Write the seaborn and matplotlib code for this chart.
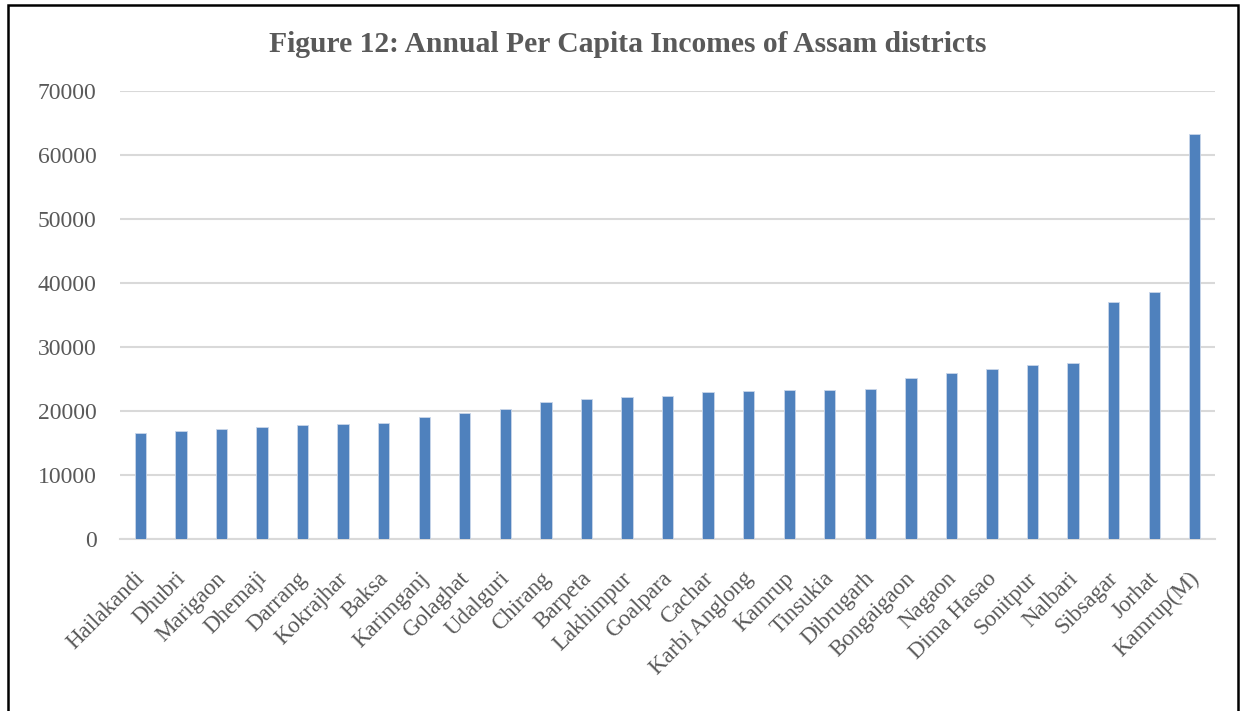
import matplotlib
matplotlib.use("Agg")
import matplotlib.pyplot as plt
import matplotlib.transforms as mtransforms
import seaborn as sns
import pandas as pd
from matplotlib.patches import Rectangle

# Data
districts = ["Hailakandi", "Dhubri", "Marigaon", "Dhemaji", "Darrang", "Kokrajhar",
             "Baksa", "Karimganj", "Golaghat", "Udalguri", "Chirang", "Barpeta",
             "Lakhimpur", "Goalpara", "Cachar", "Karbi Anglong", "Kamrup", "Tinsukia",
             "Dibrugarh", "Bongaigaon", "Nagaon", "Dima Hasao", "Sonitpur", "Nalbari",
             "Sibsagar", "Jorhat", "Kamrup(M)"]
income = [16630, 16830, 17140, 17560, 17870, 18030,
          18190, 19120, 19750, 20370, 21470, 21830,
          22250, 22400, 23030, 23080, 23340, 23340,
          23390, 25160, 25890, 26560, 27250, 27560,
          37100, 38670, 63340]
yticks = [0, 10000, 20000, 30000, 40000, 50000, 60000, 70000]

df = pd.DataFrame({"District": districts, "Income": income})

sns.set_style("white")
plt.rcParams['font.family'] = ['Liberation Serif', 'DejaVu Serif']

grey = "#595959"
fig = plt.figure(figsize=(12.44, 7.11), dpi=100)
ax = fig.add_axes([0.0965, 0.2419, 0.8802, 0.6301])

sns.barplot(data=df, x="District", y="Income", color="#4F81BD", width=0.28,
            saturation=1, edgecolor="#C9D6EA", linewidth=0.6, ax=ax, zorder=3)

ax.set_ylim(0, 70000)
ax.set_xlim(-0.5, len(districts) - 0.5)
ax.set_yticks(yticks)
ax.set_yticklabels([str(v) for v in yticks], fontsize=17, color=grey)
ax.set_xticks(range(len(districts)))
ax.set_xticklabels(districts, rotation=45, ha="right", rotation_mode="anchor",
                   fontsize=16.5, color=grey)
ax.tick_params(axis="y", length=0, pad=17)
ax.tick_params(axis="x", length=0, pad=18)
# nudge x labels a little left/down like the original
shift = mtransforms.ScaledTranslation(-0.06, -0.04, fig.dpi_scale_trans)
for lbl in ax.get_xticklabels():
    lbl.set_transform(lbl.get_transform() + shift)
ax.yaxis.grid(True, color="#D9D9D9", linewidth=1.5, zorder=0)
ax.set_axisbelow(True)
for s in ["top", "right", "left"]:
    ax.spines[s].set_visible(False)
ax.spines["bottom"].set_color("#D9D9D9")
ax.spines["bottom"].set_linewidth(1.5)
ax.set_xlabel("")
ax.set_ylabel("")

fig.text(0.505, 0.938, "Figure 12: Annual Per Capita Incomes of Assam districts",
         ha="center", va="center", fontsize=21.3, fontweight="bold", color=grey)

# frame around the figure
fig.patches.append(Rectangle((0.0065, -0.05), 0.9885, 1.043, transform=fig.transFigure,
                             fill=False, edgecolor="black", linewidth=1.8))

fig.savefig("out.png", dpi=100)
